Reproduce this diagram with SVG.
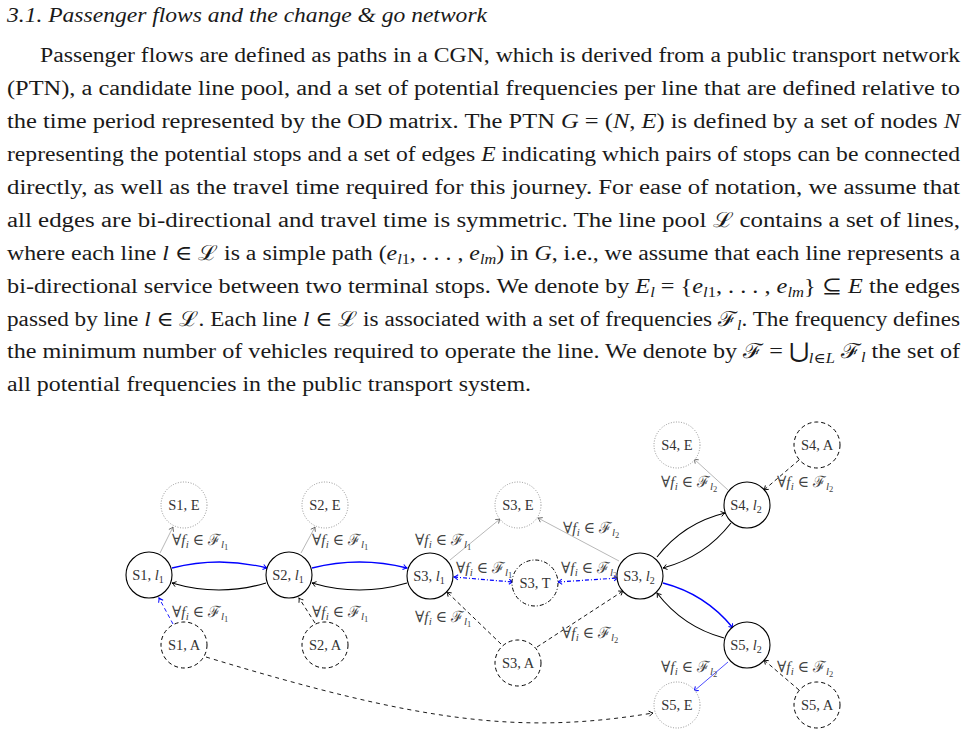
<svg xmlns="http://www.w3.org/2000/svg" width="967" height="736" viewBox="0 0 967 736">
<style>
.body{font-family:"Liberation Serif","DejaVu Serif",serif;font-size:20.5px;fill:#1a1a1a}
.it{font-style:italic}
.nt{font-family:"Liberation Serif","DejaVu Serif",serif;font-size:14.5px;fill:#333;text-anchor:middle}
.lb{font-family:"Liberation Serif","DejaVu Serif",serif;font-size:15.5px;fill:#444}
.ns{fill:#fff;stroke:#000;stroke-width:1.1}
.ne{fill:#fff;stroke:#888;stroke-width:0.9;stroke-dasharray:1 1.6}
.na{fill:#fff;stroke:#000;stroke-width:1;stroke-dasharray:4 3}
.nx{fill:#fff;stroke:#000;stroke-width:1;stroke-dasharray:4 2 1 2}
.ek{fill:none;stroke:#000;stroke-width:1.1;marker-end:url(#ak)}
.eb{fill:none;stroke:#0000ff;stroke-width:1.3;marker-end:url(#ab)}
.eg{fill:none;stroke:#999;stroke-width:0.7;marker-end:url(#ag)}
.ea{fill:none;stroke:#000;stroke-width:0.9;stroke-dasharray:4 3;marker-end:url(#ak)}
.eab{fill:none;stroke:#0000ff;stroke-width:0.9;stroke-dasharray:4 3;marker-end:url(#ab)}
.et{fill:none;stroke:#0000ff;stroke-width:1.2;stroke-dasharray:4 2 1 2;marker-end:url(#ab);marker-start:url(#abs)}
.ebt{fill:none;stroke:#0000ff;stroke-width:0.7;marker-end:url(#ab)}
.el{fill:none;stroke:#000;stroke-width:0.9;stroke-dasharray:4 4;marker-end:url(#ak)}
</style>
<defs>
<marker id="ak" viewBox="-6 -5 10 10" markerWidth="10" markerHeight="10" refX="0" refY="0" orient="auto" markerUnits="userSpaceOnUse"><path d="M-4,-2.6 Q-1.5,-0.6 0,0 Q-1.5,0.6 -4,2.6" fill="none" stroke="#000" stroke-width="0.9"/></marker>
<marker id="ab" viewBox="-6 -5 10 10" markerWidth="10" markerHeight="10" refX="0" refY="0" orient="auto" markerUnits="userSpaceOnUse"><path d="M-4,-2.6 Q-1.5,-0.6 0,0 Q-1.5,0.6 -4,2.6" fill="none" stroke="#0000ff" stroke-width="1"/></marker>
<marker id="abs" viewBox="-6 -5 10 10" markerWidth="10" markerHeight="10" refX="0" refY="0" orient="auto-start-reverse" markerUnits="userSpaceOnUse"><path d="M-4,-2.6 Q-1.5,-0.6 0,0 Q-1.5,0.6 -4,2.6" fill="none" stroke="#0000ff" stroke-width="1"/></marker>
<marker id="ag" viewBox="-6 -5 10 10" markerWidth="10" markerHeight="10" refX="0" refY="0" orient="auto" markerUnits="userSpaceOnUse"><path d="M-4,-2.6 Q-1.5,-0.6 0,0 Q-1.5,0.6 -4,2.6" fill="none" stroke="#555" stroke-width="0.8"/></marker>
</defs>
<rect width="967" height="736" fill="#fff"/>

<g id="text">
<text class="body it" x="7" y="22" textLength="480" lengthAdjust="spacingAndGlyphs">3.1. Passenger flows and the change &amp; go network</text>
<text class="body" x="40" y="62" textLength="920" lengthAdjust="spacingAndGlyphs">Passenger flows are defined as paths in a CGN, which is derived from a public transport network</text>
<text class="body" x="7" y="95" textLength="953" lengthAdjust="spacingAndGlyphs">(PTN), a candidate line pool, and a set of potential frequencies per line that are defined relative to</text>
<text class="body" x="7" y="128" textLength="953" lengthAdjust="spacingAndGlyphs">the time period represented by the OD matrix. The PTN <tspan class="it">G</tspan> = (<tspan class="it">N</tspan>, <tspan class="it">E</tspan>) is defined by a set of nodes <tspan class="it">N</tspan></text>
<text class="body" x="7" y="161" textLength="953" lengthAdjust="spacingAndGlyphs">representing the potential stops and a set of edges <tspan class="it">E</tspan> indicating which pairs of stops can be connected</text>
<text class="body" x="7" y="194" textLength="953" lengthAdjust="spacingAndGlyphs">directly, as well as the travel time required for this journey. For ease of notation, we assume that</text>
<text class="body" x="7" y="226.5" textLength="953" lengthAdjust="spacingAndGlyphs">all edges are bi-directional and travel time is symmetric. The line pool ℒ contains a set of lines,</text>
<text class="body" x="7" y="259.5" textLength="953" lengthAdjust="spacingAndGlyphs">where each line <tspan class="it">l</tspan> ∈ ℒ is a simple path (<tspan class="it">e</tspan><tspan class="it" dy="4" font-size="14">l</tspan><tspan font-size="14">1</tspan><tspan dy="-4">, . . . , </tspan><tspan class="it">e</tspan><tspan class="it" dy="4" font-size="14">lm</tspan><tspan dy="-4">) in </tspan><tspan class="it">G</tspan>, i.e., we assume that each line represents a</text>
<text class="body" x="7" y="292.5" textLength="953" lengthAdjust="spacingAndGlyphs">bi-directional service between two terminal stops. We denote by <tspan class="it">E</tspan><tspan class="it" dy="4" font-size="14">l</tspan><tspan dy="-4"> = {</tspan><tspan class="it">e</tspan><tspan class="it" dy="4" font-size="14">l</tspan><tspan font-size="14">1</tspan><tspan dy="-4">, . . . , </tspan><tspan class="it">e</tspan><tspan class="it" dy="4" font-size="14">lm</tspan><tspan dy="-4">} ⊆ </tspan><tspan class="it">E</tspan> the edges</text>
<text class="body" x="7" y="325.5" textLength="953" lengthAdjust="spacingAndGlyphs">passed by line <tspan class="it">l</tspan> ∈ ℒ. Each line <tspan class="it">l</tspan> ∈ ℒ is associated with a set of frequencies ℱ<tspan class="it" dy="4" font-size="14">l</tspan><tspan dy="-4">. The frequency defines</tspan></text>
<text class="body" x="7" y="358" textLength="953" lengthAdjust="spacingAndGlyphs">the minimum number of vehicles required to operate the line. We denote by ℱ = ⋃<tspan class="it" dy="5" font-size="14">l</tspan><tspan font-size="14">∈</tspan><tspan class="it" font-size="14">L</tspan><tspan dy="-5"> ℱ</tspan><tspan class="it" dy="4" font-size="14">l</tspan><tspan dy="-4"> the set of</tspan></text>
<text class="body" x="7" y="391" textLength="524" lengthAdjust="spacingAndGlyphs">all potential frequencies in the public transport system.</text>
</g>

<g id="connectors">
<path id="c-s1l1-s2l1" class="eb" d="M172,568 Q219.5,556 267,568"/>
<path id="c-s2l1-s1l1" class="ek" d="M266,583 Q219,597 172,583"/>
<path id="c-s2l1-s3l1" class="eb" d="M312,568 Q359.5,556 407,568"/>
<path id="c-s3l1-s2l1" class="ek" d="M407,583 Q359.5,597 312,583"/>
<path id="c-s3l2-s4l2" class="ek" d="M657,557 Q683.5,523 725,513"/>
<path id="c-s4l2-s3l2" class="ek" d="M731,523 Q704.5,557 663,568"/>
<path id="c-s3l2-s5l2" class="eb" d="M663,583 Q705.5,594 733,628"/>
<path id="c-s5l2-s3l2" class="ek" d="M724,638 Q683,627 657,593"/>
<path id="c-s1l1-s1e" class="eg" d="M160,553 L173,527"/>
<path id="c-s1a-s1l1" class="eab" d="M173,624 L159,598"/>
<path id="c-s2l1-s2e" class="eg" d="M301,553 L315,527"/>
<path id="c-s2a-s2l1" class="ea" d="M315,623 L299,598"/>
<path id="c-s3l1-s3e" class="eg" d="M450,560 L500,519"/>
<path id="c-s3l2-s3e" class="eg" d="M619,561 L538,518"/>
<path id="c-s3l1-s3t" class="et" d="M454,577 L513,582"/>
<path id="c-s3t-s3l2" class="et" d="M558,582 L618,578"/>
<path id="c-s3a-s3l1" class="ea" d="M501,644 L447,592"/>
<path id="c-s3a-s3l2" class="ea" d="M537,647 L623,591"/>
<path id="c-s4l2-s4e" class="eg" d="M728,490 L694,459"/>
<path id="c-s4a-s4l2" class="ea" d="M799,460 L764,490"/>
<path id="c-s5l2-s5e" class="ebt" d="M728,662 L694,691"/>
<path id="c-s5a-s5l2" class="ea" d="M799,690 L764,660"/>
<path id="c-s1a-s5e" class="el" d="M206,657 C420,722 520,735 653,713"/>
</g>

<g id="labels">
<text class="lb" x="172" y="545">∀<tspan class="it">f</tspan><tspan class="it" dy="3" font-size="11">i</tspan><tspan dy="-3"> ∈ ℱ</tspan><tspan class="it" dy="3" font-size="11">l</tspan><tspan dy="2" font-size="8.5">1</tspan></text>
<text class="lb" x="172" y="617">∀<tspan class="it">f</tspan><tspan class="it" dy="3" font-size="11">i</tspan><tspan dy="-3"> ∈ ℱ</tspan><tspan class="it" dy="3" font-size="11">l</tspan><tspan dy="2" font-size="8.5">1</tspan></text>
<text class="lb" x="312" y="545">∀<tspan class="it">f</tspan><tspan class="it" dy="3" font-size="11">i</tspan><tspan dy="-3"> ∈ ℱ</tspan><tspan class="it" dy="3" font-size="11">l</tspan><tspan dy="2" font-size="8.5">1</tspan></text>
<text class="lb" x="312" y="617">∀<tspan class="it">f</tspan><tspan class="it" dy="3" font-size="11">i</tspan><tspan dy="-3"> ∈ ℱ</tspan><tspan class="it" dy="3" font-size="11">l</tspan><tspan dy="2" font-size="8.5">1</tspan></text>
<text class="lb" x="415" y="545">∀<tspan class="it">f</tspan><tspan class="it" dy="3" font-size="11">i</tspan><tspan dy="-3"> ∈ ℱ</tspan><tspan class="it" dy="3" font-size="11">l</tspan><tspan dy="2" font-size="8.5">1</tspan></text>
<text class="lb" x="415" y="622">∀<tspan class="it">f</tspan><tspan class="it" dy="3" font-size="11">i</tspan><tspan dy="-3"> ∈ ℱ</tspan><tspan class="it" dy="3" font-size="11">l</tspan><tspan dy="2" font-size="8.5">1</tspan></text>
<text class="lb" x="456" y="573">∀<tspan class="it">f</tspan><tspan class="it" dy="3" font-size="11">i</tspan><tspan dy="-3"> ∈ ℱ</tspan><tspan class="it" dy="3" font-size="11">l</tspan><tspan dy="2" font-size="8.5">1</tspan></text>
<text class="lb" x="561" y="573">∀<tspan class="it">f</tspan><tspan class="it" dy="3" font-size="11">i</tspan><tspan dy="-3"> ∈ ℱ</tspan><tspan class="it" dy="3" font-size="11">l</tspan><tspan dy="2" font-size="8.5">2</tspan></text>
<text class="lb" x="563" y="533">∀<tspan class="it">f</tspan><tspan class="it" dy="3" font-size="11">i</tspan><tspan dy="-3"> ∈ ℱ</tspan><tspan class="it" dy="3" font-size="11">l</tspan><tspan dy="2" font-size="8.5">2</tspan></text>
<text class="lb" x="562" y="638">∀<tspan class="it">f</tspan><tspan class="it" dy="3" font-size="11">i</tspan><tspan dy="-3"> ∈ ℱ</tspan><tspan class="it" dy="3" font-size="11">l</tspan><tspan dy="2" font-size="8.5">2</tspan></text>
<text class="lb" x="661" y="487">∀<tspan class="it">f</tspan><tspan class="it" dy="3" font-size="11">i</tspan><tspan dy="-3"> ∈ ℱ</tspan><tspan class="it" dy="3" font-size="11">l</tspan><tspan dy="2" font-size="8.5">2</tspan></text>
<text class="lb" x="777" y="487">∀<tspan class="it">f</tspan><tspan class="it" dy="3" font-size="11">i</tspan><tspan dy="-3"> ∈ ℱ</tspan><tspan class="it" dy="3" font-size="11">l</tspan><tspan dy="2" font-size="8.5">2</tspan></text>
<text class="lb" x="661" y="672">∀<tspan class="it">f</tspan><tspan class="it" dy="3" font-size="11">i</tspan><tspan dy="-3"> ∈ ℱ</tspan><tspan class="it" dy="3" font-size="11">l</tspan><tspan dy="2" font-size="8.5">2</tspan></text>
<text class="lb" x="777" y="672">∀<tspan class="it">f</tspan><tspan class="it" dy="3" font-size="11">i</tspan><tspan dy="-3"> ∈ ℱ</tspan><tspan class="it" dy="3" font-size="11">l</tspan><tspan dy="2" font-size="8.5">2</tspan></text>
</g>

<g id="n-S1-l1"><circle class="ns" cx="149" cy="575" r="23"/><text class="nt" x="148" y="580">S1, <tspan class="it">l</tspan><tspan dy="3" font-size="10">1</tspan></text></g>
<g id="n-S2-l1"><circle class="ns" cx="289" cy="575" r="23"/><text class="nt" x="288" y="580">S2, <tspan class="it">l</tspan><tspan dy="3" font-size="10">1</tspan></text></g>
<g id="n-S3-l1"><circle class="ns" cx="430" cy="576" r="23"/><text class="nt" x="429" y="581">S3, <tspan class="it">l</tspan><tspan dy="3" font-size="10">1</tspan></text></g>
<g id="n-S3-T"><circle class="nx" cx="535" cy="583" r="23"/><text class="nt" x="535" y="588">S3, T</text></g>
<g id="n-S3-l2"><circle class="ns" cx="640" cy="576" r="23"/><text class="nt" x="639" y="581">S3, <tspan class="it">l</tspan><tspan dy="3" font-size="10">2</tspan></text></g>
<g id="n-S4-l2"><circle class="ns" cx="747" cy="505" r="23"/><text class="nt" x="746" y="510">S4, <tspan class="it">l</tspan><tspan dy="3" font-size="10">2</tspan></text></g>
<g id="n-S5-l2"><circle class="ns" cx="747" cy="645" r="23"/><text class="nt" x="746" y="650">S5, <tspan class="it">l</tspan><tspan dy="3" font-size="10">2</tspan></text></g>
<g id="n-S1-E"><circle class="ne" cx="184" cy="505" r="23"/><text class="nt" x="184" y="510">S1, E</text></g>
<g id="n-S2-E"><circle class="ne" cx="325" cy="505" r="23"/><text class="nt" x="325" y="510">S2, E</text></g>
<g id="n-S3-E"><circle class="ne" cx="518" cy="505" r="23"/><text class="nt" x="518" y="510">S3, E</text></g>
<g id="n-S4-E"><circle class="ne" cx="677" cy="445" r="23"/><text class="nt" x="677" y="450">S4, E</text></g>
<g id="n-S5-E"><circle class="ne" cx="677" cy="705" r="23"/><text class="nt" x="677" y="710">S5, E</text></g>
<g id="n-S1-A"><circle class="na" cx="184" cy="645" r="23"/><text class="nt" x="184" y="650">S1, A</text></g>
<g id="n-S2-A"><circle class="na" cx="325" cy="645" r="23"/><text class="nt" x="325" y="650">S2, A</text></g>
<g id="n-S3-A"><circle class="na" cx="518" cy="663" r="23"/><text class="nt" x="518" y="668">S3, A</text></g>
<g id="n-S4-A"><circle class="na" cx="817" cy="445" r="23"/><text class="nt" x="817" y="450">S4, A</text></g>
<g id="n-S5-A"><circle class="na" cx="817" cy="705" r="23"/><text class="nt" x="817" y="710">S5, A</text></g>
</svg>
